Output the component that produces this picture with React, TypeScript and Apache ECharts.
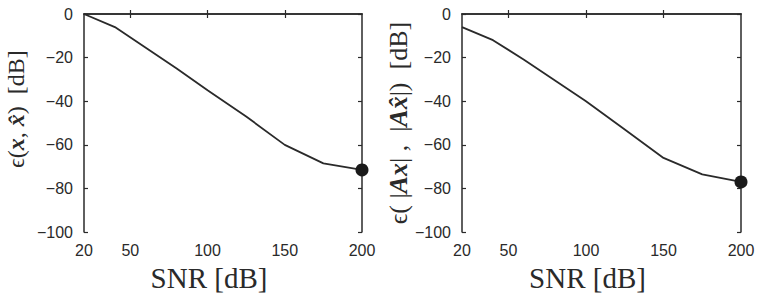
import React, { useEffect, useRef } from "react";
import * as echarts from "echarts";

const snr = [20, 40, 60, 80, 100, 125, 150, 175, 200];
const errX = [0, -6, -15.5, -25, -35, -47, -60, -68.5, -71.5];
const errAx = [-6, -12, -21, -30.5, -40, -53, -66, -73.5, -77];
const xLabelValues = [20, 50, 100, 150, 200];
const xTickValues = [50, 100, 150];

const INK = "#2a2a2a";
const SERIF = "'Liberation Serif', 'DejaVu Serif', serif";
const SANS = "'Liberation Sans', Arial, sans-serif";

function fmtY(v: number) {
  return v < 0 ? "\u2212" + Math.abs(v) : String(v);
}

export default function App() {
  const ref = useRef<HTMLDivElement>(null);
  useEffect(() => {
    if (!ref.current) return;
    const chart = echarts.init(ref.current, undefined, { renderer: "svg" });
    const grids = [
      { left: 84, top: 14, width: 278, height: 223 },
      { left: 462, top: 14, width: 279, height: 223 },
    ];
    const axLine = { show: true, lineStyle: { color: INK, width: 1.5 } };
    const xAxes: any[] = [];
    const yAxes: any[] = [];
    const yNames = [
      "{n|\u03f5(}{b|x}{n|, }{b|x\u0302}{n|)  [dB]}",
      "{n|\u03f5( |}{b|Ax}{n|| ,  |}{b|Ax\u0302}{n||)  [dB]}",
    ];
    const nameSizes = [24, 26];
    grids.forEach((_, i) => {
      const fs = nameSizes[i];
      const rich = {
        n: { fontFamily: SERIF, fontSize: fs, color: INK },
        b: { fontFamily: SERIF, fontSize: fs, color: INK, fontWeight: "bold", fontStyle: "italic" },
      };
      xAxes.push({
        type: "value",
        gridIndex: i,
        min: 20,
        max: 200,
        position: "bottom",
        axisLine: axLine,
        splitLine: { show: false },
        axisTick: { show: true, inside: true, length: 4, customValues: xTickValues, lineStyle: { color: INK, width: 1.2 } },
        axisLabel: { customValues: xLabelValues, color: INK, fontSize: 16, fontFamily: SANS, margin: 10 },
        name: "SNR [dB]",
        nameLocation: "middle",
        nameGap: 24,
        nameTextStyle: { fontFamily: SERIF, fontSize: 29, color: INK, padding: [0, 28, 0, 0] },
      });
      xAxes.push({
        type: "value",
        gridIndex: i,
        min: 20,
        max: 200,
        position: "top",
        axisLine: axLine,
        splitLine: { show: false },
        axisTick: { show: true, inside: true, length: 4, customValues: xTickValues, lineStyle: { color: INK, width: 1.2 } },
        axisLabel: { show: false },
      });
      yAxes.push({
        type: "value",
        gridIndex: i,
        min: -100,
        max: 0,
        interval: 20,
        position: "left",
        axisLine: axLine,
        splitLine: { show: false },
        axisTick: { show: true, inside: true, length: 4, lineStyle: { color: INK, width: 1.2 } },
        axisLabel: { color: INK, fontSize: 16, fontFamily: SANS, margin: 11, formatter: fmtY },
        name: yNames[i],
        nameLocation: "middle",
        nameRotate: 90,
        nameGap: i === 0 ? 56 : 50,
        nameTextStyle: {
          fontFamily: SERIF,
          fontSize: fs,
          color: INK,
          rich,
          padding: i === 0 ? [0, 0, 0, 28] : [0, 0, 0, 0],
        },
      });
      yAxes.push({
        type: "value",
        gridIndex: i,
        min: -100,
        max: 0,
        interval: 20,
        position: "right",
        axisLine: axLine,
        splitLine: { show: false },
        axisTick: { show: true, inside: true, length: 4, lineStyle: { color: INK, width: 1.2 } },
        axisLabel: { show: false },
      });
    });
    const mkData = (ys: number[]) =>
      snr.map((x, k) =>
        k === snr.length - 1
          ? { value: [x, ys[k]], symbol: "circle", symbolSize: 13 }
          : { value: [x, ys[k]], symbol: "none" }
      );
    chart.setOption({
      animation: false,
      grid: grids,
      xAxis: xAxes,
      yAxis: yAxes,
      series: [
        {
          type: "line",
          xAxisIndex: 0,
          yAxisIndex: 0,
          data: mkData(errX),
          showSymbol: true,
          lineStyle: { color: INK, width: 1.8 },
          itemStyle: { color: "#1a1a1a" },
          z: 5,
        },
        {
          type: "line",
          xAxisIndex: 2,
          yAxisIndex: 2,
          data: mkData(errAx),
          showSymbol: true,
          lineStyle: { color: INK, width: 1.8 },
          itemStyle: { color: "#1a1a1a" },
          z: 5,
        },
      ],
    });
    return () => chart.dispose();
  }, []);
  return (
    <div
      ref={ref}
      style={{ position: "fixed", left: 0, top: 0, width: 758, height: 297, background: "#fff" }}
    />
  );
}
